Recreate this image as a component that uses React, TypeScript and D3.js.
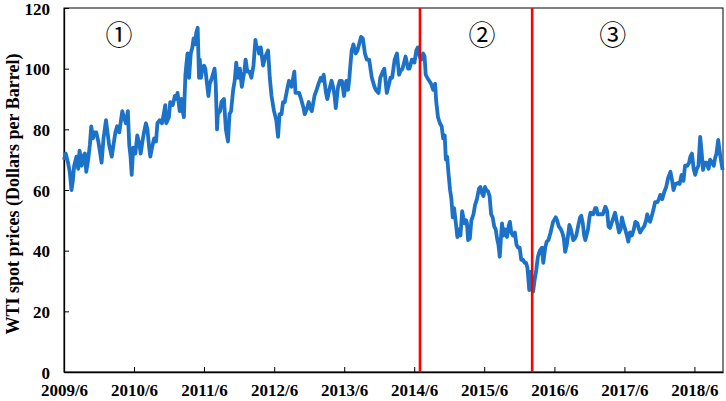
import * as React from 'react';
import {useEffect, useRef} from 'react';
import * as d3 from 'd3';

// WTI spot price (USD per barrel)
const p2009 = [["2009-06-01",70],["2009-06-10",72],["2009-06-22",69],["2009-07-01",66],["2009-07-10",60],["2009-07-17",63],["2009-07-24",68],["2009-08-05",71],["2009-08-14",67],["2009-08-21",73],["2009-09-01",68],["2009-09-08",71],["2009-09-18",72],["2009-09-25",66],["2009-10-05",70],["2009-10-14",75],["2009-10-21",81],["2009-10-30",77],["2009-11-06",79],["2009-11-16",79],["2009-11-27",76],["2009-12-07",72],["2009-12-14",69],["2009-12-24",77]];
const p2010 = [["2010-01-06",83],["2010-01-14",79],["2010-01-22",75],["2010-02-05",71],["2010-02-12",74],["2010-02-24",79],["2010-03-05",81],["2010-03-16",79],["2010-03-23",82],["2010-04-01",86],["2010-04-09",84],["2010-04-20",82],["2010-04-30",86],["2010-05-07",75],["2010-05-14",71],["2010-05-20",65],["2010-05-28",74],["2010-06-08",72],["2010-06-18",78],["2010-06-29",75],["2010-07-06",72],["2010-07-15",76],["2010-07-23",79],["2010-08-02",82],["2010-08-10",80],["2010-08-19",74],["2010-08-25",71],["2010-09-03",74],["2010-09-14",77],["2010-09-24",76],["2010-10-01",82],["2010-10-13",83],["2010-10-25",82],["2010-11-03",85],["2010-11-11",88],["2010-11-16",82],["2010-11-30",84],["2010-12-07",89],["2010-12-20",88],["2010-12-31",91]];
const p2011 = [["2011-01-05",90],["2011-01-14",92],["2011-01-25",86],["2011-02-03",90],["2011-02-10",86],["2011-02-16",84],["2011-02-24",98],["2011-03-02",102],["2011-03-07",105],["2011-03-15",97],["2011-03-24",105],["2011-04-01",107],["2011-04-08",110],["2011-04-15",108],["2011-04-22",112],["2011-04-29",113.5],["2011-05-06",97],["2011-05-10",103],["2011-05-16",97],["2011-05-24",100],["2011-06-01",101],["2011-06-08",100],["2011-06-13",97],["2011-06-24",91],["2011-07-01",95],["2011-07-12",97],["2011-07-26",100],["2011-08-01",95],["2011-08-08",80],["2011-08-12",85],["2011-08-24",86],["2011-08-31",89],["2011-09-13",90],["2011-09-23",80],["2011-10-04",76],["2011-10-12",85],["2011-10-20",86],["2011-10-31",93],["2011-11-08",96],["2011-11-16",102],["2011-11-25",97],["2011-12-05",100],["2011-12-15",94],["2011-12-28",99]];
const p2012 = [["2012-01-04",103],["2012-01-13",99],["2012-01-24",99],["2012-02-03",97],["2012-02-14",101],["2012-02-24",109.5],["2012-03-01",107],["2012-03-09",107],["2012-03-14",105],["2012-03-23",107],["2012-04-04",101],["2012-04-16",104],["2012-04-30",106],["2012-05-09",97],["2012-05-18",91],["2012-05-31",86],["2012-06-12",83],["2012-06-21",77.5],["2012-06-29",85],["2012-07-09",85],["2012-07-17",89],["2012-07-26",89],["2012-08-07",93],["2012-08-17",96],["2012-08-30",94],["2012-09-14",99],["2012-09-20",92],["2012-09-28",92],["2012-10-09",92],["2012-10-19",90],["2012-11-01",87],["2012-11-07",85],["2012-11-20",87],["2012-11-28",89],["2012-12-05",87],["2012-12-14",86],["2012-12-28",91]];
const p2013 = [["2013-01-08",93],["2013-01-18",95],["2013-01-30",97],["2013-02-08",96],["2013-02-14",98],["2013-02-26",92],["2013-03-05",90],["2013-03-15",93],["2013-03-27",96],["2013-04-04",94],["2013-04-12",91],["2013-04-18",87],["2013-04-30",94],["2013-05-09",96],["2013-05-20",96],["2013-05-31",91],["2013-06-12",96],["2013-06-21",93],["2013-06-28",97],["2013-07-03",101],["2013-07-10",106],["2013-07-19",108],["2013-07-31",105],["2013-08-09",106],["2013-08-28",110.5],["2013-09-06",110],["2013-09-17",105],["2013-09-27",103],["2013-10-09",103],["2013-10-23",97],["2013-11-06",94],["2013-11-13",93],["2013-11-27",92],["2013-12-06",97],["2013-12-19",99],["2013-12-27",100]];
const p2014 = [["2014-01-09",92],["2014-01-17",94],["2014-01-28",97],["2014-02-06",97],["2014-02-19",103],["2014-03-03",105],["2014-03-14",98],["2014-03-20",99],["2014-04-01",100],["2014-04-17",104],["2014-04-30",100],["2014-05-07",100],["2014-05-20",103],["2014-06-02",102],["2014-06-12",106],["2014-06-20",107],["2014-06-30",104],["2014-07-08",103],["2014-07-18",105],["2014-07-25",104],["2014-07-31",98],["2014-08-08",97],["2014-08-18",96],["2014-08-28",95],["2014-09-08",93],["2014-09-18",95],["2014-09-24",89],["2014-10-03",84],["2014-10-13",82],["2014-10-22",81],["2014-10-30",77],["2014-11-07",78],["2014-11-13",70],["2014-11-20",71],["2014-11-26",66],["2014-12-05",60],["2014-12-12",57],["2014-12-19",51],["2014-12-26",54]];
const p2015 = [["2015-01-06",48],["2015-01-12",44.5],["2015-01-20",47],["2015-01-28",45],["2015-02-06",53],["2015-02-12",51],["2015-02-19",49],["2015-02-27",50],["2015-03-03",49],["2015-03-09",43.5],["2015-03-18",44],["2015-03-26",50],["2015-04-06",52],["2015-04-14",55],["2015-04-24",57],["2015-05-05",60.5],["2015-05-12",61],["2015-05-20",59],["2015-05-28",58],["2015-06-05",61],["2015-06-12",60],["2015-06-21",59.5],["2015-06-29",58],["2015-07-07",52],["2015-07-15",51],["2015-07-23",48],["2015-07-31",47],["2015-08-07",44],["2015-08-14",42],["2015-08-21",38],["2015-08-28",45],["2015-09-02",49],["2015-09-09",45],["2015-09-17",47],["2015-09-28",44.5],["2015-10-06",48],["2015-10-13",49.5],["2015-10-20",46],["2015-10-28",45],["2015-11-08",46],["2015-11-16",42],["2015-11-24",41],["2015-12-03",41],["2015-12-11",37],["2015-12-20",37],["2015-12-29",36]];
const p2016 = [["2016-01-05",36],["2016-01-12",34.5],["2016-01-22",27],["2016-01-28",33],["2016-02-04",31],["2016-02-11",26.5],["2016-02-18",30],["2016-02-26",33],["2016-03-07",38],["2016-03-17",40],["2016-03-28",41],["2016-04-04",36],["2016-04-14",41],["2016-04-22",43],["2016-05-01",43.5],["2016-05-12",46],["2016-05-25",49.5],["2016-06-08",51],["2016-06-15",50],["2016-06-24",48],["2016-07-05",47],["2016-07-12",46],["2016-07-20",44],["2016-07-27",39.6],["2016-08-05",42],["2016-08-18",48.5],["2016-08-26",47],["2016-09-07",43.5],["2016-09-15",44],["2016-09-23",45],["2016-10-04",48.5],["2016-10-13",51],["2016-10-19",51.5],["2016-10-27",49],["2016-11-03",45],["2016-11-09",43.5],["2016-11-23",47],["2016-12-01",51],["2016-12-06",52.5],["2016-12-20",52],["2016-12-30",54]];
const p2017 = [["2017-01-06",54],["2017-01-12",52],["2017-01-27",52],["2017-02-08",52],["2017-02-22",54.5],["2017-03-03",53],["2017-03-10",48],["2017-03-18",47.5],["2017-03-31",50],["2017-04-13",52.5],["2017-04-21",50],["2017-05-04",46],["2017-05-12",47],["2017-05-19",51],["2017-05-26",49],["2017-06-05",47],["2017-06-14",45],["2017-06-21",43],["2017-06-30",46],["2017-07-10",45],["2017-07-20",47],["2017-07-28",49.5],["2017-08-08",49],["2017-08-16",47],["2017-08-22",46],["2017-08-31",47],["2017-09-12",48],["2017-09-22",50],["2017-09-28",52],["2017-10-06",50],["2017-10-13",49.5],["2017-10-24",52],["2017-11-01",54],["2017-11-08",56],["2017-11-20",56],["2017-11-28",57],["2017-12-05",58.4],["2017-12-15",57],["2017-12-27",59.6]];
const p2018 = [["2018-01-05",61],["2018-01-15",64],["2018-01-27",66],["2018-02-05",63],["2018-02-12",60],["2018-02-22",62],["2018-03-07",62.3],["2018-03-16",62],["2018-03-26",65],["2018-04-05",63],["2018-04-13",68],["2018-04-25",68],["2018-05-04",69],["2018-05-11",71],["2018-05-19",72],["2018-05-28",67],["2018-06-05",65],["2018-06-14",67],["2018-06-22",68],["2018-07-01",77.5],["2018-07-08",73],["2018-07-16",66.6],["2018-07-24",69],["2018-08-03",69],["2018-08-14",67],["2018-08-22",70],["2018-09-01",69],["2018-09-10",68],["2018-09-17",70.6],["2018-09-24",72],["2018-10-03",76.5],["2018-10-10",73],["2018-10-17",70],["2018-10-26",66.6]];

const xDomain = ["2009-06-01", "2018-10-28"];
const yTicks = [0, 20, 40, 60, 80, 100, 120];
const xTickYears = [2009, 2010, 2011, 2012, 2013, 2014, 2015, 2016, 2017, 2018];
const breakDates = ["2014-07-01", "2016-02-06"];
const phaseLabels = [
    {text: '①', date: "2010-03-15"},
    {text: '②', date: "2015-05-20"},
    {text: '③', date: "2017-04-01"},
];
const yTitle = 'WTI spot prices (Dollars per Barrel)';

const W = 726, H = 401;
const margin = {left: 64, top: 8, right: 3, bottom: 29};
const serif = '"Liberation Serif", "Times New Roman", serif';

const App = () => {
    const ref = useRef(null);

    useEffect(() => {
        const svg = d3.select(ref.current);
        svg.selectAll('*').remove();

        const parse = d3.timeParse('%Y-%m-%d');
        const data = [...p2009, ...p2010, ...p2011, ...p2012, ...p2013, ...p2014, ...p2015, ...p2016, ...p2017, ...p2018]
            .map(([d, v]) => ({date: parse(d as string), value: v as number}));

        const x = d3.scaleTime()
            .domain(xDomain.map(d => parse(d)))
            .range([margin.left, W - margin.right]);
        const y = d3.scaleLinear()
            .domain([0, 120])
            .range([H - margin.bottom, margin.top]);

        const bottom = H - margin.bottom;

        // frame
        svg.append('rect')
            .attr('x', margin.left).attr('y', margin.top)
            .attr('width', W - margin.right - margin.left)
            .attr('height', bottom - margin.top)
            .attr('fill', 'none').attr('stroke', '#000').attr('stroke-width', 1);

        // x axis
        const xAxis = d3.axisBottom(x)
            .tickValues(xTickYears.map(yr => new Date(yr, 5, 1)))
            .tickFormat(d => `${(d as Date).getFullYear()}/6`)
            .tickSizeInner(-5).tickSizeOuter(0).tickPadding(12);
        const gx = svg.append('g').attr('transform', `translate(0,${bottom})`).call(xAxis);
        gx.select('.domain').attr('stroke-width', 1.3);
        gx.selectAll('text')
            .style('font-family', serif).style('font-weight', 'bold').style('font-size', '17px').attr('fill', '#000');

        // y axis
        const yAxis = d3.axisLeft(y)
            .tickValues(yTicks)
            .tickSizeInner(-5).tickSizeOuter(0).tickPadding(14);
        const gy = svg.append('g').attr('transform', `translate(${margin.left},0)`).call(yAxis);
        gy.select('.domain').attr('stroke-width', 1.3);
        gy.selectAll('text')
            .attr('dy', '0.36em')
            .style('font-family', serif).style('font-weight', 'bold').style('font-size', '17px').attr('fill', '#000');

        // price line
        const line = d3.line<any>()
            .x(d => x(d.date))
            .y(d => y(d.value));
        svg.append('path')
            .datum(data)
            .attr('d', line)
            .attr('fill', 'none')
            .attr('stroke', '#1c72c8')
            .attr('stroke-width', 3.8)
            .attr('stroke-linejoin', 'round');

        // regime breaks
        svg.selectAll('line.brk')
            .data(breakDates)
            .enter()
            .append('line')
            .attr('class', 'brk')
            .attr('x1', d => x(parse(d))).attr('x2', d => x(parse(d)))
            .attr('y1', margin.top).attr('y2', bottom)
            .attr('stroke', '#ff0000').attr('stroke-width', 2.6);

        svg.selectAll('text.phase')
            .data(phaseLabels)
            .enter()
            .append('text')
            .attr('class', 'phase')
            .attr('x', d => x(parse(d.date)))
            .attr('y', 45)
            .attr('text-anchor', 'middle')
            .style('font-family', '"Noto Sans CJK JP", "DejaVu Sans", sans-serif')
            .style('font-size', '27px')
            .text(d => d.text);

        svg.append('text')
            .attr('transform', `translate(15,${(margin.top + bottom) / 2 + 4}) rotate(-90)`)
            .attr('text-anchor', 'middle')
            .attr('dominant-baseline', 'middle')
            .style('font-family', serif).style('font-weight', 'bold').style('font-size', '18px')
            .text(yTitle);
    }, []);

    return (
        <svg ref={ref} width={W} height={H}
             style={{position: 'absolute', left: 0, top: 0, background: '#fff'}} />
    );
};

export default App;
